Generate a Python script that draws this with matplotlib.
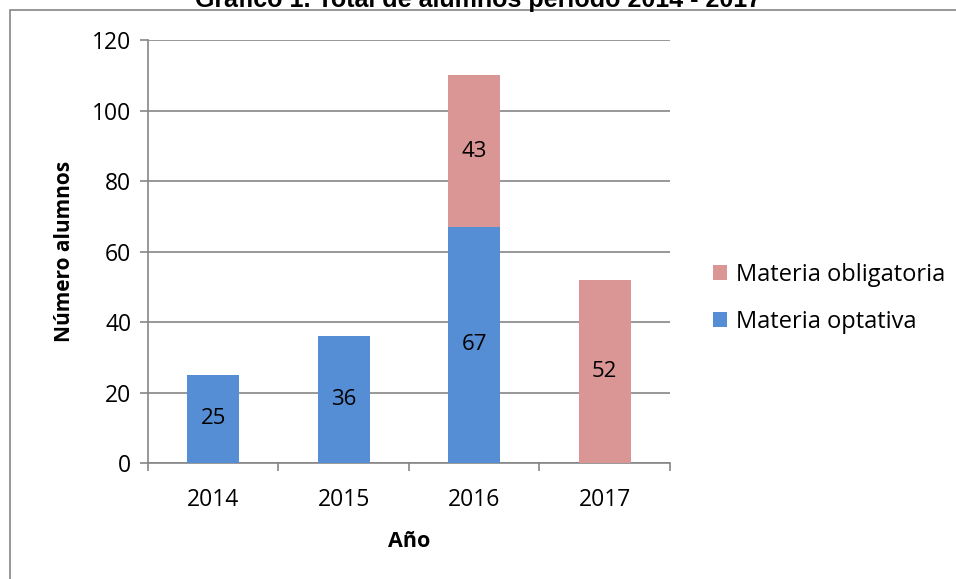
import matplotlib.pyplot as plt
from matplotlib.patches import Rectangle

years = ['2014', '2015', '2016', '2017']
optativa = [25, 36, 67, 0]
obligatoria = [0, 0, 43, 52]

blue = '#558ED5'
pink = '#D99694'
grid_c = '#868686'

plt.rcParams['font.family'] = ['Open Sans', 'DejaVu Sans']

fig = plt.figure(figsize=(9.56, 5.79), dpi=100)
ax = fig.add_axes([0.1548, 0.2003, 0.5460, 0.7306])

x = range(len(years))
b1 = ax.bar(x, optativa, width=0.40, color=blue, label='Materia optativa', zorder=3)
b2 = ax.bar(x, obligatoria, width=0.40, bottom=optativa, color=pink,
            label='Materia obligatoria', zorder=3)

for i in x:
    if optativa[i]:
        ax.text(i, optativa[i] / 2, str(optativa[i]), ha='center', va='center', fontsize=16, zorder=4)
    if obligatoria[i]:
        ax.text(i, optativa[i] + obligatoria[i] / 2, str(obligatoria[i]), ha='center', va='center',
                fontsize=16, zorder=4)

ax.set_xlim(-0.5, 3.5)
ax.set_ylim(0, 120)
ax.set_yticks(range(0, 121, 20))
ax.set_xticks(x)
ax.set_xticklabels(years)
ax.set_xticks([-0.5, 0.5, 1.5, 2.5, 3.5], minor=True)
ax.tick_params(axis='x', which='major', length=0, pad=18, labelsize=16.5)
ax.tick_params(axis='x', which='minor', length=6, color=grid_c, width=1.2)
ax.tick_params(axis='y', length=6, color=grid_c, width=1.2, labelsize=16.5, pad=6)
ax.grid(axis='y', color=grid_c, linewidth=1.2, zorder=0)
for s in ['top', 'right']:
    ax.spines[s].set_visible(False)
for s in ['left', 'bottom']:
    ax.spines[s].set_color(grid_c)
    ax.spines[s].set_linewidth(1.2)

ax.set_ylabel('Número alumnos', fontsize=15, fontweight='bold', labelpad=12)
ax.set_xlabel('Año', fontsize=15.5, fontweight='bold', labelpad=14)

ax.legend(handles=[b2, b1], loc='center left', bbox_to_anchor=(1.082, 0.389), frameon=False,
          fontsize=17, handlelength=0.6, handleheight=0.6, handletextpad=0.4, labelspacing=1.0,
          borderaxespad=0, borderpad=0)

fig.text(0.5, 1 - 7 / 579, 'Gráfico 1. Total de alumnos período 2014 - 2017', ha='center', va='baseline',
         fontsize=18, fontweight='bold', family='Liberation Sans')

fig.patches.append(Rectangle((10 / 956, -0.1), 2, 1.1 - 10 / 579, transform=fig.transFigure,
                             fill=False, edgecolor=grid_c, linewidth=1.2))

fig.savefig('out.png', dpi=100)
